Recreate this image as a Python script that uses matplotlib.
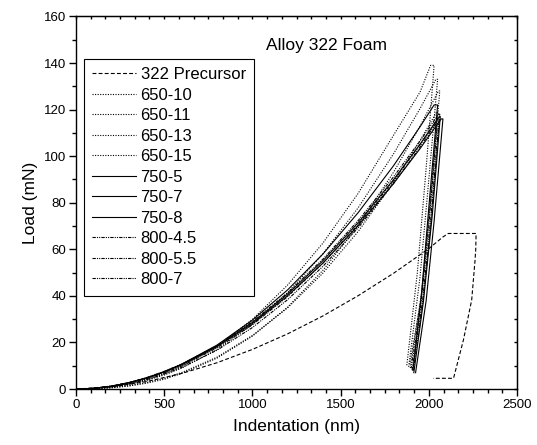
import matplotlib
matplotlib.use("Agg")
import matplotlib.pyplot as plt
from matplotlib.ticker import AutoMinorLocator

plt.rcParams['font.family'] = ['Liberation Sans', 'DejaVu Sans']

# ---------------- data ----------------
labels = ["322 Precursor", "650-10", "650-11", "650-13", "650-15",
          "750-5", "750-7", "750-8", "800-4.5", "800-5.5", "800-7"]

# 322 Precursor
pre_h = [0, 200, 400, 600, 800, 1000, 1200, 1400, 1600, 1800, 2000, 2080, 2110,
         2268, 2266, 2262, 2243, 2196, 2140, 2025]
pre_P = [0, 0.9, 3.2, 6.7, 11.3, 17.0, 23.7, 31.4, 40.1, 49.7, 60.3, 65.3, 66.8,
         66.8, 60.0, 55.3, 38.2, 21.0, 4.6, 4.6]

# foam samples: common loading depths, then peak / hold / unloading
grid_h = [0, 100, 200, 300, 400, 500, 600, 800, 1000, 1200, 1400, 1600, 1800, 1950]
load_P = [
    [0, 0.2, 0.9, 2.1, 4.0, 6.5, 9.7, 18.3, 29.9, 44.7, 62.7, 84.1, 109.0, 127.5],   # 650-10
    [0, 0.2, 0.8, 1.9, 3.7, 6.0, 9.0, 17.0, 27.7, 41.4, 58.1, 77.9, 101.0, 120.4],   # 650-11
    [0, 0.1, 0.5, 1.3, 2.5, 4.2, 6.7, 13.3, 22.7, 35.2, 51.0, 70.2, 93.1, 112.9],    # 650-13
    [0, 0.1, 0.6, 1.4, 2.8, 4.6, 7.1, 13.7, 23.0, 34.9, 49.8, 67.7, 88.7, 106.7],    # 650-15
    [0, 0.3, 1.2, 2.7, 4.7, 7.4, 10.7, 18.9, 29.6, 42.6, 58.0, 75.8, 95.9, 112.6],   # 750-5
    [0, 0.3, 1.2, 2.7, 4.8, 7.4, 10.6, 18.5, 28.6, 40.8, 55.1, 71.5, 89.9, 105.1],   # 750-7
    [0, 0.3, 1.2, 2.7, 4.7, 7.3, 10.4, 18.2, 28.1, 40.1, 54.1, 70.2, 88.3, 103.2],   # 750-8
    [0, 0.3, 1.1, 2.5, 4.4, 6.9, 9.9, 17.7, 27.6, 39.7, 54.1, 70.7, 89.4, 105.0],    # 800-4.5
    [0, 0.2, 1.0, 2.3, 4.0, 6.4, 9.3, 16.7, 26.4, 38.4, 52.7, 69.3, 88.2, 103.9],    # 800-5.5
    [0, 0.3, 1.3, 2.8, 4.9, 7.6, 10.7, 18.7, 29.0, 41.3, 55.8, 72.4, 91.1, 106.5],   # 800-7
]
peak_h = [2010, 2040, 2055, 2045, 2030, 2060, 2070, 2050, 2040, 2055]
peak_P = [139, 133, 128, 119, 122, 117, 116, 116, 114, 118]
hold_h = [2030, 2050, 2062, 2050, 2050, 2065, 2080, 2058, 2048, 2062]
unload_h = [
    [1985, 1935, 1875],
    [2000, 1950, 1885],
    [2015, 1960, 1895],
    [2005, 1955, 1890],
    [2000, 1960, 1910],
    [2020, 1970, 1915],
    [2030, 1985, 1925],
    [2010, 1965, 1905],
    [2000, 1955, 1900],
    [2015, 1968, 1912],
]
unload_P = [
    [95, 50, 10],
    [90, 48, 9],
    [85, 42, 9],
    [78, 38, 10],
    [78, 42, 8],
    [75, 38, 7],
    [72, 38, 7],
    [72, 38, 8],
    [70, 36, 9],
    [74, 38, 8],
]

x_ticks = [0, 500, 1000, 1500, 2000, 2500]
y_ticks = [0, 20, 40, 60, 80, 100, 120, 140, 160]

# ---------------- styles ----------------
dotted = (0, (1.0, 1.3))
solid = '-'
dashdot = (0, (3, 1, 1, 1, 1, 1))
styles = [dotted] * 4 + [solid] * 3 + [dashdot] * 3

fig = plt.figure(figsize=(5.37, 4.45), dpi=100)
ax = fig.add_axes([0.1415, 0.1258, 0.8213, 0.8372])

ax.plot(pre_h, pre_P, color='black', lw=0.8, linestyle=(0, (3.5, 2)), label=labels[0])

for i in range(len(load_P)):
    hs = grid_h + [peak_h[i], hold_h[i]] + unload_h[i]
    ps = load_P[i] + [peak_P[i], peak_P[i]] + unload_P[i]
    ax.plot(hs, ps, color='black', lw=0.8, linestyle=styles[i], label=labels[i + 1])

ax.set_xlim(0, 2500)
ax.set_ylim(0, 160)
ax.set_xticks(x_ticks)
ax.set_yticks(y_ticks)
ax.xaxis.set_minor_locator(AutoMinorLocator(6))
ax.yaxis.set_minor_locator(AutoMinorLocator(2))

ax.tick_params(axis='both', which='major', direction='out', length=5, width=1.0,
               labelsize=9.5, pad=2)
ax.tick_params(axis='both', which='minor', direction='out', length=3, width=1.0)
ax.tick_params(top=False, right=False, which='both')

# short inward ticks on top/right
sec_x = ax.secondary_xaxis('top')
sec_x.set_xticks(x_ticks)
sec_x.xaxis.set_minor_locator(AutoMinorLocator(6))
sec_x.tick_params(which='both', direction='in', length=2.5, width=1.0, labeltop=False)
sec_y = ax.secondary_yaxis('right')
sec_y.set_yticks(y_ticks)
sec_y.yaxis.set_minor_locator(AutoMinorLocator(2))
sec_y.tick_params(which='both', direction='in', length=2.5, width=1.0, labelright=False)

for s in ax.spines.values():
    s.set_linewidth(1.0)

ax.set_xlabel("Indentation (nm)", fontsize=12.5, labelpad=6)
ax.set_ylabel("Load (mN)", fontsize=12.5, labelpad=4)
ax.text(0.569, 0.923, "Alloy 322 Foam", transform=ax.transAxes, fontsize=12.5,
        ha='center', va='center')

leg = ax.legend(loc='upper left', bbox_to_anchor=(0.018, 0.886), borderaxespad=0,
                fontsize=12, frameon=True, fancybox=False, handlelength=2.6,
                handletextpad=0.3, labelspacing=0.33, borderpad=0.5)
leg.get_frame().set_edgecolor('black')
leg.get_frame().set_linewidth(0.8)
leg.get_frame().set_alpha(1)

fig.savefig("out.png", dpi=100)
